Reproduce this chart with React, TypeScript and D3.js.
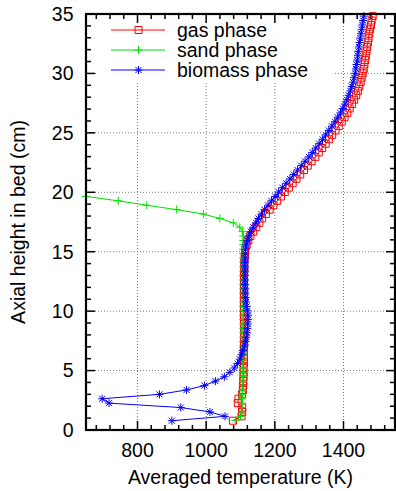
import React from 'react';
import * as d3 from 'd3';

// Axial heights (cm) of the computational cells
const heights = [0.78,1.15,1.52,1.89,2.26,2.63,3.00,3.37,3.74,4.11,4.48,4.85,5.22,5.59,5.96,6.33,6.70,7.07,7.44,7.81,8.18,8.55,8.92,9.29,9.66,10.03,10.40,10.77,11.14,11.51,11.88,12.25,12.62,12.99,13.36,13.73,14.10,14.47,14.84,15.21,15.58,15.95,16.32,16.69,17.06,17.43,17.80,18.17,18.54,18.91,19.28,19.65,20.02,20.39,20.76,21.13,21.50,21.87,22.24,22.61,22.98,23.35,23.72,24.09,24.46,24.83,25.20,25.57,25.94,26.31,26.68,27.05,27.42,27.79,28.16,28.53,28.90,29.27,29.64,30.01,30.38,30.75,31.12,31.49,31.86,32.23,32.60,32.97,33.34,33.71,34.08,34.45,34.82];

// Gas phase temperature (K)
const gasT = [1078,1103,1105,1105,1092,1094,1104,1107,
  1108,1108,1109,1109,1109,1110,1110,1110,1110,1110,1110,1111,1111,1111,1111,1110,1110,1110,1110,1110,1110,1110,1110,1110,1110,1110,1111,1111,1111,1112,1113,
  1114,1118,1123,1129,1137,1146,1155,1163,1174,1185,1196,1207,1218,1229,1241,1252,1263,1274,1285,1296,1307,1318,1328,1338,1348,1358,1367,1377,1386,1395,1403,1411,1418,1425,1431,1437,1442,1446,1450,1453,1456,1459,1461,1463,1465,1467,1469,1471,1473,1475,1477,1480,1482,1485];

// Sand phase temperature (K), bed only up to ~20 cm
const sandT = [1085,1100,1103,
  1104,1105,1105,1106,1106,1106,1107,1107,1107,1107,1107,1108,1108,1108,1108,1108,1108,1108,1108,1108,1108,1108,1108,1108,1108,1108,1108,1108,1108,1108,1108,1108,1108,1108,1108,1108,1108,1108,1108,1108,
  1106,1098,1079,1040,992,914,827,744,650];

// Biomass phase temperature (K)
const biomassT = [900,1055,1011,926,717,697,864,943,995,1027,1053,1069,1082,1091,1098,1103,1107,
  1112,1115,1117,1119,1120,1121,1122,1122,1120,1118,1116,1115,1114,1114,1113,1113,1113,1113,1113,1113,1114,1114,
  1115,1117,1120,1124,1130,1137,1145,1152,1161,1170,1180,1190,1201,1211,1222,1233,1244,1255,1266,1277,1288,1299,1309,1319,1329,1339,1348,1357,1366,1375,1383,1391,1398,1404,1410,1415,1420,1424,1428,1431,1434,1436,1438,1440,1442,1443,1445,1447,1449,1451,1453,1455,1457,1459];

const seriesNames = ['gas phase', 'sand phase', 'biomass phase'];
const xTicks = [800, 1000, 1200, 1400];
const yTicks = [0, 5, 10, 15, 20, 25, 30, 35];

const FONT = 'Liberation Sans, Arial, Helvetica, sans-serif';

const markerPaths: Record<string, string> = {
  square: 'M-3.5,-3.5h7v7h-7z',
  plus: 'M-4,0h8M0,-4v8',
  star: 'M-4,0h8M0,-4v8M-3,-3l6,6M-3,3l6,-6',
};

export default function App() {
  const left = 86, right = 395, top = 14, bottom = 430;
  const x = d3.scaleLinear().domain([650, 1550]).range([left, right]);
  const y = d3.scaleLinear().domain([0, 35]).range([bottom, top]);

  const series = [
    { name: seriesNames[0], temps: gasT, color: '#ff0000', marker: 'square' },
    { name: seriesNames[1], temps: sandT, color: '#00e000', marker: 'plus' },
    { name: seriesNames[2], temps: biomassT, color: '#0000ff', marker: 'star' },
  ];

  const line = d3.line<[number, number]>().x(d => x(d[0])).y(d => y(d[1]));

  const xMinor = d3.range(680, 1550, 40).filter(v => v % 200 !== 0);
  const yMinor = d3.range(1, 35, 1).filter(v => v % 5 !== 0);

  const legendX0 = 111, legendX1 = 165, legendTextX = 177;
  const legendRows = [30, 50, 70];

  return (
    <svg width={396} height={491} style={{ position: 'absolute', left: 0, top: 0, background: '#fff' }}
      fontFamily={FONT}>
      <rect x={0} y={0} width={396} height={491} fill="#fff" />
      {/* grid */}
      <g stroke="#777" strokeWidth={1} strokeDasharray="1,2">
        {xTicks.map(t => (
          <line key={'gx' + t} x1={x(t)} x2={x(t)} y1={top} y2={bottom} />
        ))}
        {yTicks.filter(t => t > 0 && t < 35).map(t => (
          <line key={'gy' + t} x1={left} x2={right} y1={y(t)} y2={y(t)} />
        ))}
      </g>
      {/* legend background */}
      <rect x={97} y={top + 1} width={236} height={66} fill="#fff" />
      {/* ticks */}
      <g stroke="#000" strokeWidth={1.5}>
        {xTicks.map(t => (
          <g key={'xt' + t}>
            <line x1={x(t)} x2={x(t)} y1={bottom} y2={bottom - 9} />
            <line x1={x(t)} x2={x(t)} y1={top} y2={top + 9} />
          </g>
        ))}
        {xMinor.map(t => (
          <g key={'xm' + t}>
            <line x1={x(t)} x2={x(t)} y1={bottom} y2={bottom - 5} />
            <line x1={x(t)} x2={x(t)} y1={top} y2={top + 5} />
          </g>
        ))}
        {yTicks.map(t => (
          <g key={'yt' + t}>
            <line x1={left} x2={left + 9} y1={y(t)} y2={y(t)} />
            <line x1={right} x2={right - 9} y1={y(t)} y2={y(t)} />
          </g>
        ))}
        {yMinor.map(t => (
          <g key={'ym' + t}>
            <line x1={left} x2={left + 5} y1={y(t)} y2={y(t)} />
            <line x1={right} x2={right - 5} y1={y(t)} y2={y(t)} />
          </g>
        ))}
      </g>
      {/* data */}
      {series.map(s => {
        const pts: [number, number][] = s.temps.map((t, i) => [t, heights[i]]);
        return (
          <g key={s.name}>
            <path d={line(pts) || ''} fill="none" stroke={s.color} strokeWidth={1} />
            {pts.map((p, i) => (
              <path key={i} d={markerPaths[s.marker]} transform={`translate(${x(p[0])},${y(p[1])})`}
                fill="none" stroke={s.color} strokeWidth={1} />
            ))}
          </g>
        );
      })}
      {/* legend */}
      {series.map((s, i) => (
        <g key={'lg' + s.name}>
          <line x1={legendX0} x2={legendX1} y1={legendRows[i]} y2={legendRows[i]} stroke={s.color} strokeWidth={1} />
          <path d={markerPaths[s.marker]} transform={`translate(${(legendX0 + legendX1) / 2 + 0.5},${legendRows[i]})`}
            fill="none" stroke={s.color} strokeWidth={1} />
          <text x={legendTextX} y={legendRows[i]} dy="0.35em" fontSize={19.5} fill="#000">{s.name}</text>
        </g>
      ))}
      {/* frame */}
      <rect x={left} y={top} width={right - left} height={bottom - top} fill="none" stroke="#000" strokeWidth={2.2} />
      {/* tick labels */}
      {xTicks.map(t => (
        <text key={'xl' + t} x={x(t)} y={456.5} textAnchor="middle" fontSize={19.5} fill="#000">{t}</text>
      ))}
      {yTicks.map(t => (
        <text key={'yl' + t} x={73.5} y={y(t)} dy="0.35em" textAnchor="end" fontSize={19.5} fill="#000">{t}</text>
      ))}
      {/* axis labels */}
      <text x={(left + right) / 2} y={484} textAnchor="middle" fontSize={19.5} fill="#000">Averaged temperature (K)</text>
      <text transform={`translate(25,${(top + bottom) / 2}) rotate(-90)`} textAnchor="middle" fontSize={19.5} fill="#000">Axial height in bed (cm)</text>
    </svg>
  );
}
